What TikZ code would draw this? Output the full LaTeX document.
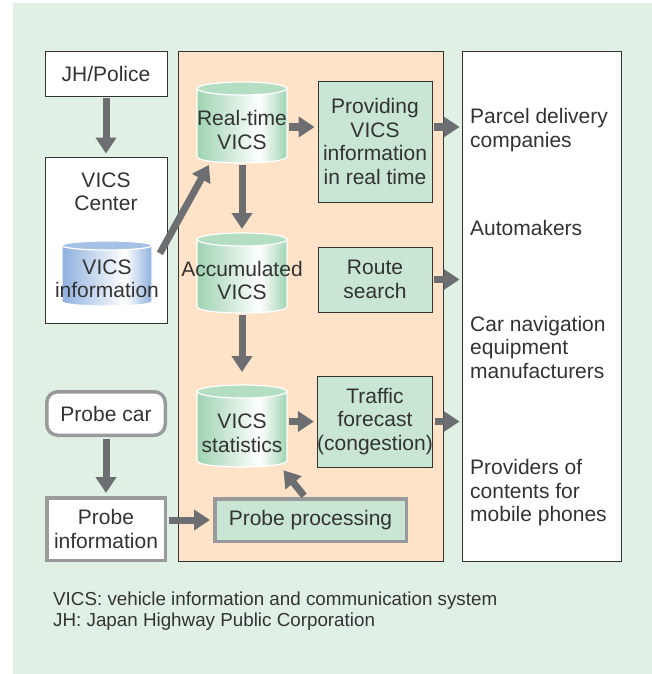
\documentclass[tikz,border=0pt]{standalone}
\usepackage{fontspec}
\setmainfont{Liberation Sans}
\usepackage{xcolor}
\usepackage{tikz}
\usetikzlibrary{arrows.meta}

\definecolor{bggreen}{HTML}{E0F0E5}
\definecolor{panelpeach}{HTML}{FEE3C8}
\definecolor{boxgreen}{HTML}{C9E5D3}
\definecolor{greenedge}{HTML}{9ED3B1}
\definecolor{greentop}{HTML}{B3DEC2}
\definecolor{blueedge}{HTML}{8EB0DE}
\definecolor{bluetop}{HTML}{A6C1E6}
\definecolor{flowgray}{HTML}{6D6E71}
\definecolor{framegray}{HTML}{999A9C}
\definecolor{txtgray}{HTML}{333333}

\pgfdeclarehorizontalshading{greendrum}{100bp}{color(0bp)=(greenedge); color(25bp)=(greenedge); color(60bp)=(white); color(75bp)=(greenedge); color(100bp)=(greenedge)}
\pgfdeclarehorizontalshading{bluedrum}{100bp}{color(0bp)=(blueedge); color(25bp)=(blueedge); color(60bp)=(white); color(75bp)=(blueedge); color(100bp)=(blueedge)}

\tikzset{every picture/.style={x=1pt,y=-1pt,every node/.style={text=txtgray,font=\fontsize{21}{23.5}\selectfont}}}
\tikzset{
  plainbox/.style={draw=txtgray, line width=0.8pt, fill=white, align=center, inner sep=0pt},
  greenbox/.style={draw=txtgray, line width=0.8pt, fill=boxgreen, align=center, inner sep=0pt},
  probebox/.style={draw=framegray, line width=3.5pt, fill=white, align=center, inner sep=0pt},
  drumtext/.style={align=center, inner sep=0pt, minimum width=90pt},
  flow/.style={draw=flowgray, line width=7pt, -{Triangle[width=20pt,length=16pt]}, shorten <=1.5pt, shorten >=3pt}
}

% drum: colour, end radius, name, x, top, bottom, text
\newcommand{\drum}[7]{%
  \path[shading=#1drum, draw=white, line width=1.2pt]
    (#4-45,#5+#2) -- (#4-45,#6-#2)
    .. controls (#4-45,#6+#2/3) and (#4+45,#6+#2/3) .. (#4+45,#6-#2)
    -- (#4+45,#5+#2) -- cycle;
  \path[fill=#1top, draw=white, line width=1.2pt] (#4,#5+#2) ellipse[x radius=45, y radius=#2];
  \coordinate (#3top) at (#4,#5);
  \node[drumtext, minimum height={(#6-#5-2*#2-2)*1pt}] (#3) at (#4,{(#5+#6)/2+#2+1}) {#7};
}

\begin{document}
\begin{tikzpicture}
    \useasboundingbox (0,0) rectangle (652,674);
    \fill[bggreen] (13,3) rectangle (652,674);

    % panels
    \node[draw=txtgray, line width=0.8pt, fill=panelpeach, minimum width=265pt, minimum height=510pt] (panel) at (310.5,306) {};
    \node[plainbox, minimum width=159pt, minimum height=510pt] (cust) at (541.5,306) {};

    % left column
    \node[plainbox, minimum width=122pt, minimum height=45pt] (jh) at (106,73.5) {JH/Police};
    \node[plainbox, minimum width=122pt, minimum height=166pt] (vcbox) at (106,240) {};
    \node[align=center, inner sep=0pt] (vctext) at (106,192) {VICS\\Center};
    \drum{blue}{4.5}{vinfo}{107}{241}{306}{VICS\\information}

    \node[probebox, rounded corners=11pt, minimum width=118.5pt, minimum height=43.5pt] (pc) at (106,413.5) {Probe car};
    \node[probebox, minimum width=118.5pt, minimum height=62.5pt] (pi) at (106,529) {Probe\\information};

    % VICS data
    \drum{green}{6.5}{rt}{242}{82}{163}{Real-time\\VICS}
    \drum{green}{6.5}{ac}{242}{233}{313}{Accumulated\\VICS}
    \drum{green}{6.5}{st}{242}{385}{467}{VICS\\statistics}

    \node[greenbox, minimum width=114pt, minimum height=121pt] (prov) at (375,141.5) {Providing\\VICS\\information\\in real time};
    \node[greenbox, minimum width=114pt, minimum height=65pt] (route) at (375,279.5) {Route\\search};
    \node[greenbox, minimum width=114pt, minimum height=91pt] (tf) at (375,421.5) {Traffic\\forecast\\(congestion)};
    \node[probebox, fill=boxgreen, minimum width=191.5pt, minimum height=42.5pt] (pp) at (310.5,520) {Probe processing};

    % users
    \node[anchor=west, align=left, inner sep=0pt] (parcel) at (470,130) {Parcel delivery\\companies};
    \node[anchor=west, align=left, inner sep=0pt] (automakers) at (470,228) {Automakers};
    \node[anchor=west, align=left, inner sep=0pt] (carnav) at (470,347) {Car navigation\\equipment\\manufacturers};
    \node[anchor=west, align=left, inner sep=0pt] (mobile) at (470,493) {Providers of\\contents for\\mobile phones};

    % note
    \node[anchor=west, align=left, inner sep=0pt, font=\fontsize{18.8}{21}\selectfont] (note) at (53,611)
      {VICS: vehicle information and communication system\\JH: Japan Highway Public Corporation};

    % arrows
    \coordinate (row1) at (0,127);
    \coordinate (ppout) at ([xshift=-5.5pt]pp.north);
    \coordinate (stin) at ([xshift=39pt]st.south);

    \foreach \from/\to/\gap in {
      jh/vcbox/3pt, vinfo.25/rt.226/2pt, rt/actop/4pt, ac/sttop/13pt,
      pc/pi/3pt, ppout/stin/4pt} \draw[flow, shorten >=\gap] (\from) -- (\to);

    \draw[flow] (rt.east|-row1) -- (prov.west|-row1);
    \draw[flow, shorten >=2pt] (prov.east|-row1) -- (cust.west|-row1);
    \draw[flow, shorten >=2pt] (route.east) -- (cust.west|-route.east);
    \draw[flow] (st.east|-tf.west) -- (tf.west);
    \draw[flow, shorten >=2pt] (tf.east) -- (cust.west|-tf.east);
    \draw[flow] (pi.east|-pp.west) -- (pp.west);
  \end{tikzpicture}
\end{document}
